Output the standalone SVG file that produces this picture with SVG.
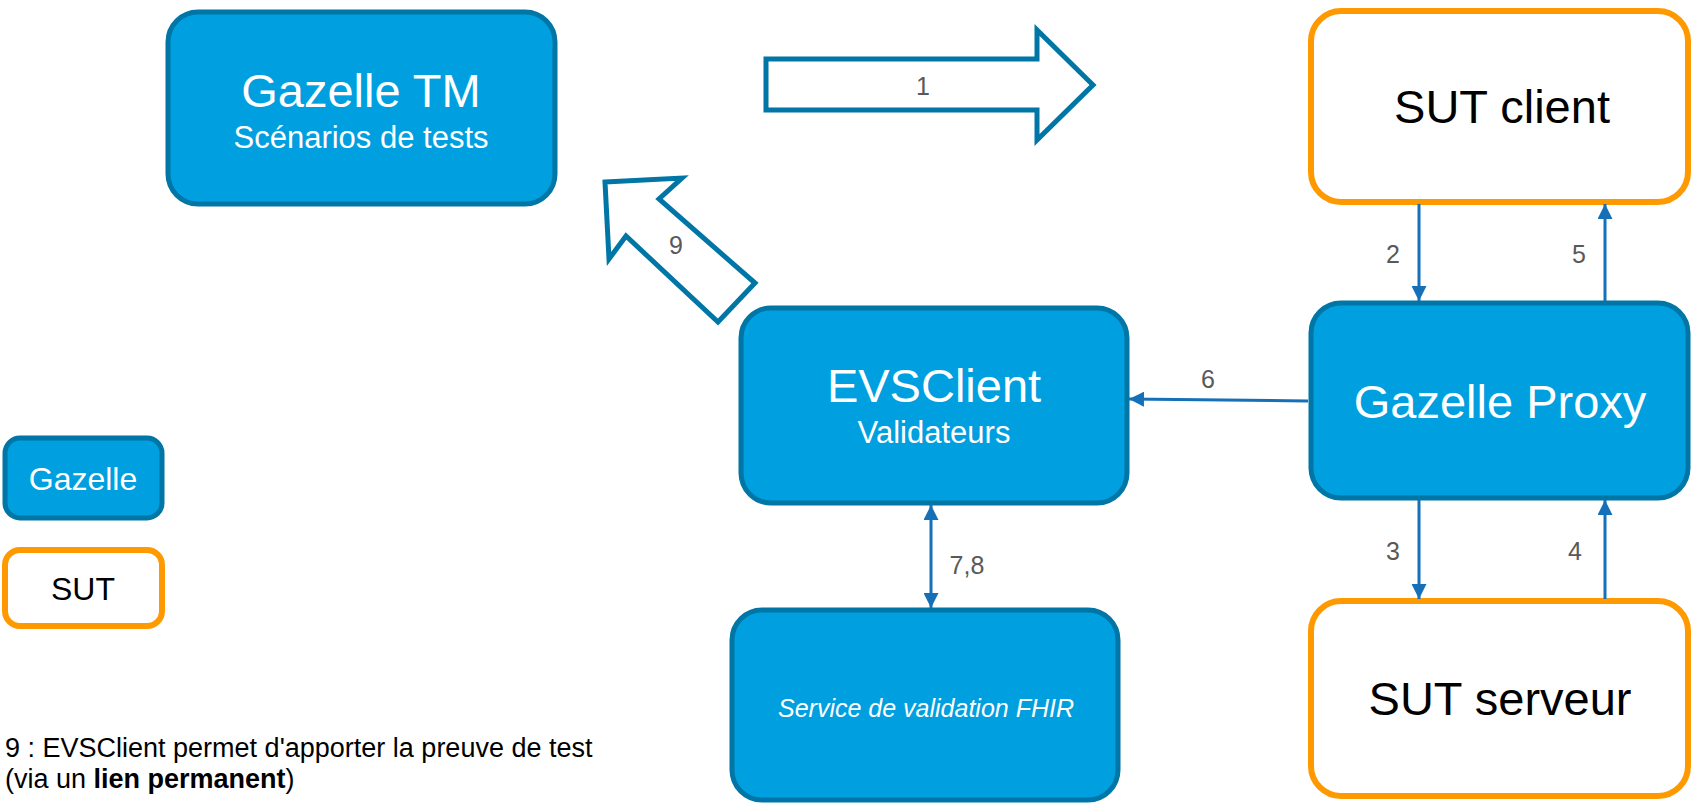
<svg xmlns="http://www.w3.org/2000/svg" width="1693" height="805" viewBox="0 0 1693 805">
<style>
.g{fill:#009FDF;stroke:#0076A6;stroke-width:5}
.s{fill:#fff;stroke:#FF9900;stroke-width:6}
.blk{fill:#fff;stroke:#0076A6;stroke-width:5;stroke-linejoin:miter}
.t{font-family:"Liberation Sans",Arial,sans-serif;text-anchor:middle}
.w{fill:#fff}
.k{fill:#000}
.n{font-family:"Liberation Sans",Arial,sans-serif;font-size:25px;fill:#595959;text-anchor:middle}
.c{stroke:#1570B8;stroke-width:3;fill:none}
.note{font-family:"Liberation Sans",Arial,sans-serif;font-size:27px;fill:#000}
</style>
<defs>
<marker id="ah" viewBox="0 0 10 10" refX="10" refY="5" markerWidth="5" markerHeight="5" orient="auto-start-reverse" markerUnits="strokeWidth">
<path d="M0,0 L10,5 L0,10 z" fill="#1570B8"/>
</marker>
</defs>
<rect width="1693" height="805" fill="#fff"/>

<g id="gazelle-tm">
<rect class="g" x="168" y="12" width="387" height="192" rx="30"/>
<text class="t w" x="361" y="107" font-size="47">Gazelle TM</text>
<text class="t w" x="361" y="148" font-size="31">Scénarios de tests</text>
</g>

<g id="evsclient">
<rect class="g" x="741" y="308" width="386" height="195" rx="30"/>
<text class="t w" x="934" y="402" font-size="47">EVSClient</text>
<text class="t w" x="934" y="443" font-size="31">Validateurs</text>
</g>

<g id="service-fhir">
<rect class="g" x="732" y="610" width="386" height="190" rx="30"/>
<text class="t w" x="926" y="717" font-size="25" font-style="italic">Service de validation FHIR</text>
</g>

<g id="sut-client">
<rect class="s" x="1311" y="11" width="377" height="191" rx="30"/>
<text class="t k" x="1502" y="123" font-size="47">SUT client</text>
</g>

<g id="gazelle-proxy">
<rect class="g" x="1311" y="303" width="377" height="195" rx="30"/>
<text class="t w" x="1500" y="418" font-size="47">Gazelle Proxy</text>
</g>

<g id="sut-serveur">
<rect class="s" x="1311" y="601" width="377" height="195" rx="30"/>
<text class="t k" x="1500" y="715" font-size="47">SUT serveur</text>
</g>

<g id="legend-gazelle">
<rect class="g" x="5" y="438" width="157" height="80" rx="15"/>
<text class="t w" x="83" y="490" font-size="32">Gazelle</text>
</g>

<g id="legend-sut">
<rect class="s" x="5" y="550" width="157" height="76" rx="15"/>
<text class="t k" x="83" y="600" font-size="32">SUT</text>
</g>

<g id="connectors">
<polygon class="blk" points="766,59 1037,59 1037,30 1093,85 1037,140 1037,110 766,110"/>
<text class="n" x="923" y="95">1</text>
<polygon class="blk" points="605,182 682,178 659,199 755,283 718,322 626,236 609,259"/>
<text class="n" x="676" y="254">9</text>

<line class="c" x1="1419" y1="204" x2="1419" y2="301" marker-end="url(#ah)"/>
<text class="n" x="1393" y="263">2</text>
<line class="c" x1="1605" y1="301" x2="1605" y2="204" marker-end="url(#ah)"/>
<text class="n" x="1579" y="263">5</text>
<line class="c" x1="1419" y1="500" x2="1419" y2="599" marker-end="url(#ah)"/>
<text class="n" x="1393" y="560">3</text>
<line class="c" x1="1605" y1="599" x2="1605" y2="500" marker-end="url(#ah)"/>
<text class="n" x="1575" y="560">4</text>
<line class="c" x1="1308" y1="401" x2="1129" y2="399" marker-end="url(#ah)"/>
<text class="n" x="1208" y="388">6</text>
<line class="c" x1="931" y1="505" x2="931" y2="608" marker-start="url(#ah)" marker-end="url(#ah)"/>
<text class="n" x="967" y="574">7,8</text>
</g>

<g id="note">
<text class="note" x="5" y="757">9 : EVSClient permet d'apporter la preuve de test</text>
<text class="note" x="5" y="788">(via un <tspan font-weight="bold">lien permanent</tspan>)</text>
</g>
</svg>
